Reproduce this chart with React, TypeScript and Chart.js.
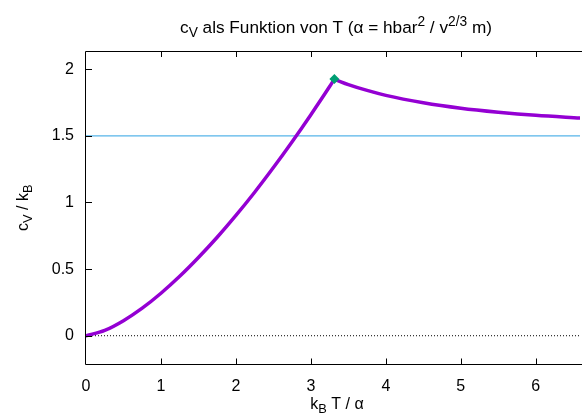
import React, { useEffect, useRef } from "react";
import { Chart, registerables } from "chart.js";

Chart.register(...registerables);

// Below T_c: c_V / k_B rising branch
const lowX = [0, 0.25, 0.5, 0.75, 1, 1.25, 1.5, 1.75, 2, 2.25, 2.5, 2.75, 3, 3.25, 3.313];
const lowY = [0, 0.04, 0.113, 0.207, 0.319, 0.446, 0.587, 0.739, 0.903, 1.077, 1.262, 1.456, 1.659, 1.87, 1.926];
// Above T_c: falling branch
const highX = [3.313, 3.4, 3.5, 3.75, 4, 4.5, 5, 5.5, 6, 6.6];
const highY = [1.926, 1.906, 1.885, 1.841, 1.804, 1.749, 1.708, 1.678, 1.654, 1.633];
// Peak marker
const peakX = [3.313];
const peakY = [1.926];
// Classical limit 3/2
const refX = [0, 7];
const refY = [1.5, 1.5];
// Zero axis
const zeroX = [0, 7];
const zeroY = [0, 0];

const xTicks = [0, 1, 2, 3, 4, 5, 6];
const yTicks = [0, 0.5, 1, 1.5, 2];

const FONT = "'Liberation Sans', Arial, sans-serif";

type Part = { t: string; sub?: boolean; sup?: boolean };

const titleParts: Part[] = [
  { t: "c" }, { t: "V", sub: true }, { t: " als Funktion von T (α = hbar" },
  { t: "2", sup: true }, { t: " / v" }, { t: "2/3", sup: true }, { t: " m)" },
];
const yLabelParts: Part[] = [{ t: "c" }, { t: "V", sub: true }, { t: " / k" }, { t: "B", sub: true }];
const xLabelParts: Part[] = [{ t: "k" }, { t: "B", sub: true }, { t: " T / α" }];

function drawRich(ctx: CanvasRenderingContext2D, parts: Part[], x: number, y: number, size: number) {
  const small = size * 0.8;
  let total = 0;
  const widths = parts.map((p) => {
    ctx.font = `${p.sub || p.sup ? small : size}px ${FONT}`;
    const w = ctx.measureText(p.t).width;
    total += w;
    return w;
  });
  let cx = x - total / 2;
  ctx.textAlign = "left";
  ctx.textBaseline = "alphabetic";
  parts.forEach((p, i) => {
    ctx.font = `${p.sub || p.sup ? small : size}px ${FONT}`;
    const dy = p.sub ? size * 0.22 : p.sup ? -size * 0.38 : 0;
    ctx.fillText(p.t, cx, y + dy);
    cx += widths[i];
  });
}

const decorPlugin = {
  id: "decor",
  afterDraw(chart: any) {
    const ctx: CanvasRenderingContext2D = chart.ctx;
    const { left, right, top, bottom } = chart.chartArea;
    const xs = chart.scales.x;
    const ys = chart.scales.y;
    ctx.save();
    ctx.strokeStyle = "#000";
    ctx.lineWidth = 1;
    ctx.beginPath();
    ctx.moveTo(right + 2, top + 0.5);
    ctx.lineTo(left - 0.5, top + 0.5);
    ctx.lineTo(left - 0.5, bottom);
    ctx.lineTo(right + 2, bottom);
    ctx.stroke();
    const tl = 6;
    ctx.beginPath();
    xTicks.forEach((v) => {
      const px = Math.round(xs.getPixelForValue(v)) + 0.5;
      if (v === 0) return;
      ctx.moveTo(px, bottom);
      ctx.lineTo(px, bottom - tl);
      ctx.moveTo(px, top);
      ctx.lineTo(px, top + tl);
    });
    yTicks.forEach((v) => {
      const py = Math.round(ys.getPixelForValue(v)) + 0.5;
      ctx.moveTo(left, py);
      ctx.lineTo(left + tl, py);
    });
    ctx.stroke();

    ctx.fillStyle = "#000";
    drawRich(ctx, titleParts, 336, 33, 17.2);
    drawRich(ctx, xLabelParts, 337, 409, 16);
    ctx.translate(28, (top + bottom) / 2);
    ctx.rotate(-Math.PI / 2);
    drawRich(ctx, yLabelParts, 0, 0, 16);
    ctx.restore();
  },
};

export default function App() {
  const ref = useRef<HTMLCanvasElement | null>(null);
  useEffect(() => {
    if (!ref.current) return;
    const toPts = (xs: number[], ys: number[]) => xs.map((x, i) => ({ x, y: ys[i] }));
    const chart = new Chart(ref.current, {
      type: "line",
      data: {
        datasets: [
          {
            label: "T_c",
            data: toPts(peakX, peakY),
            showLine: false,
            pointStyle: "rectRot",
            pointRadius: 5,
            pointBackgroundColor: "#009e73",
            pointBorderColor: "#009e73",
            pointBorderWidth: 0,
          },
          {
            label: "T < Tc",
            data: toPts(lowX, lowY),
            borderColor: "#9400d3",
            borderWidth: 3.5,
            pointRadius: 0,
            cubicInterpolationMode: "monotone",
            borderCapStyle: "round",
          },
          {
            label: "T > Tc",
            data: toPts(highX, highY),
            borderColor: "#9400d3",
            borderWidth: 3.5,
            pointRadius: 0,
            cubicInterpolationMode: "monotone",
            borderCapStyle: "round",
          },
          {
            label: "3/2",
            data: toPts(refX, refY),
            borderColor: "#56b4e9",
            borderWidth: 1.2,
            pointRadius: 0,
          },
          {
            label: "zero",
            data: toPts(zeroX, zeroY),
            borderColor: "#000",
            borderWidth: 1,
            borderDash: [1, 2],
            pointRadius: 0,
          },
        ],
      },
      options: {
        responsive: false,
        animation: false,
        events: [],
        layout: { padding: { top: 51, right: 0, left: 0, bottom: 0 } },
        plugins: {
          legend: { display: false },
          tooltip: { enabled: false },
          title: { display: false },
        },
        scales: {
          x: {
            type: "linear",
            min: 0,
            max: 6.59,
            grid: { display: false, drawTicks: false },
            border: { display: false },
            ticks: {
              padding: 12,
              color: "#000",
              font: { family: FONT, size: 16 },
              maxRotation: 0,
              callback: (v: any) => String(v),
            },
            afterBuildTicks: (s: any) => {
              s.ticks = xTicks.map((v) => ({ value: v }));
            },
            afterFit: (s: any) => {
              s.height = 49.5;
            },
          },
          y: {
            type: "linear",
            min: -0.216,
            max: 2.137,
            grid: { display: false, drawTicks: false },
            border: { display: false },
            ticks: {
              padding: 12,
              color: "#000",
              font: { family: FONT, size: 16 },
              callback: (v: any) => String(v),
            },
            afterBuildTicks: (s: any) => {
              s.ticks = yTicks.map((v) => ({ value: v }));
            },
            afterFit: (s: any) => {
              s.width = 86;
            },
          },
        },
      },
      plugins: [decorPlugin],
    });
    return () => chart.destroy();
  }, []);
  return (
    <div style={{ position: "absolute", left: 0, top: 0, width: 585, height: 414, background: "#fff" }}>
      <canvas ref={ref} width={585} height={414} style={{ display: "block" }} />
    </div>
  );
}
